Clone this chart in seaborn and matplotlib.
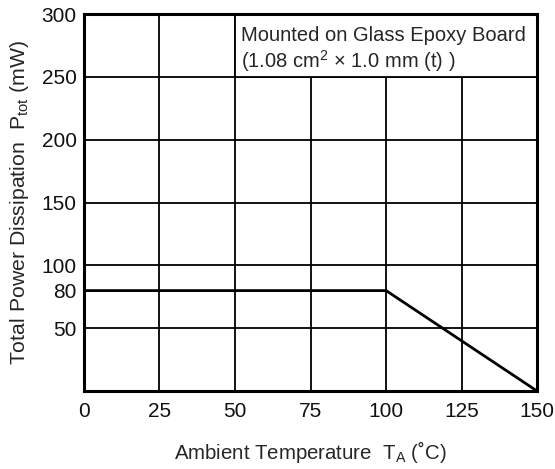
import matplotlib
matplotlib.use("Agg")
import matplotlib.pyplot as plt
import seaborn as sns
import pandas as pd
from matplotlib.patches import Rectangle

temperature = [0, 100, 150]
power = [80, 80, 0]
x_ticks = [0, 25, 50, 75, 100, 125, 150]
y_ticks = [50, 80, 100, 150, 200, 250, 300]
note_lines = ["Mounted on Glass Epoxy Board", r"(1.08 cm$^{2}$ $\times$ 1.0 mm (t) )"]

sns.set_style("white")
plt.rcParams['font.family'] = ['Liberation Sans', 'DejaVu Sans']
plt.rcParams['mathtext.fontset'] = 'custom'
plt.rcParams['mathtext.rm'] = 'Liberation Sans'
plt.rcParams['mathtext.it'] = 'Liberation Sans'
plt.rcParams['mathtext.default'] = 'regular'

fig = plt.figure(figsize=(5.55, 4.69), dpi=100)
ax = fig.add_axes([0.151, 0.166, 0.817, 0.804])

df = pd.DataFrame({"T": temperature, "P": power})
sns.lineplot(data=df, x="T", y="P", ax=ax, color="black", linewidth=2.0, zorder=4)

ax.set_xlim(0, 150)
ax.set_ylim(0, 300)
ax.set_xticks(x_ticks)
ax.set_yticks(y_ticks)
ax.tick_params(length=0, labelsize=15, colors="#111111")
ax.tick_params(axis="x", pad=8)
ax.tick_params(axis="y", pad=5)
for t in x_ticks[1:-1]:
    ax.axvline(t, color="black", lw=1.3, zorder=1)
for t in y_ticks:
    if t not in (80, 300):
        ax.axhline(t, color="black", lw=1.3, zorder=1)
for s in ax.spines.values():
    s.set_linewidth(2.2)
    s.set_color("black")
    s.set_zorder(5)

ax.add_patch(Rectangle((50, 250), 100, 50, facecolor="white", edgecolor="black",
                       lw=1.3, zorder=3))
ax.text(52, 283, note_lines[0], fontsize=14.5, va="center", ha="left", zorder=6)
ax.text(52, 263, note_lines[1], fontsize=14.5, va="center", ha="left", zorder=6)

ax.set_xlabel(r"Ambient Temperature  T$_{\mathrm{A}}$ (˚C)", fontsize=14.7, labelpad=13)
ax.set_ylabel(r"Total Power Dissipation  P$_{\mathrm{tot}}$ (mW)", fontsize=15.3, labelpad=8)

fig.savefig("out.png", dpi=100)
